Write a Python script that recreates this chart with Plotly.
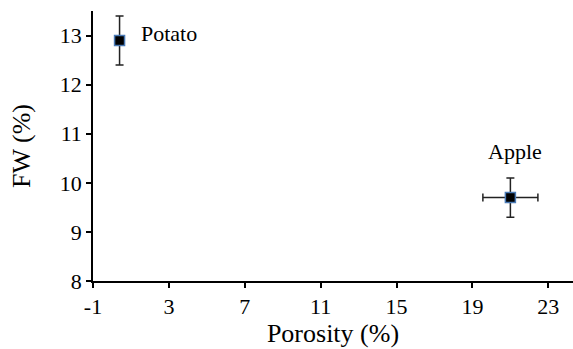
import plotly.graph_objects as go

names = ["Potato", "Apple"]
porosity = [0.4, 21.0]
porosity_err = [0.0, 1.45]
fw = [12.9, 9.7]
fw_err = [0.5, 0.4]

x_ticks = [-1, 3, 7, 11, 15, 19, 23]
y_ticks = [8, 9, 10, 11, 12, 13]

font = dict(family="Liberation Serif, Times New Roman, serif", size=22, color="black")

fig = go.Figure()
fig.add_trace(go.Scatter(
    x=porosity, y=fw, mode="markers",
    marker=dict(symbol="square", size=10, color="black",
                line=dict(color="#4a7ab5", width=1.5)),
    error_x=dict(type="data", array=porosity_err, visible=True, color="#222222", thickness=1.5, width=4),
    error_y=dict(type="data", array=fw_err, visible=True, color="#222222", thickness=1.5, width=4),
    showlegend=False,
))

fig.add_annotation(x=porosity[0], y=fw[0], text=names[0], showarrow=False,
                   xanchor="left", yanchor="middle", xshift=19, yshift=7, font=font)
fig.add_annotation(x=porosity[1], y=fw[1], text=names[1], showarrow=False,
                   xanchor="center", yanchor="middle", xshift=5, yshift=46, font=font)

fig.update_layout(
    width=573, height=349,
    margin=dict(l=93, r=0, t=11, b=68),
    paper_bgcolor="white", plot_bgcolor="white",
    font=font,
    xaxis=dict(range=[-1, 24.3], tickvals=x_ticks, ticktext=[str(v) for v in x_ticks],
               showgrid=False, zeroline=False, showline=True, linecolor="black", linewidth=1.5,
               ticks="outside", ticklen=5, tickcolor="black", tickwidth=1.5, automargin=False,
               title=dict(text="Porosity (%)", standoff=6)),
    yaxis=dict(range=[8, 13.5], tickvals=y_ticks, ticktext=[str(v) for v in y_ticks],
               showgrid=False, zeroline=False, showline=True, linecolor="black", linewidth=1.5,
               ticks="outside", ticklen=5, tickcolor="black", tickwidth=1.5, automargin=False,
               title=dict(text="FW (%)", standoff=22)),
)

fig.write_html("out.html", config={"displayModeBar": False},
               post_script="document.body.style.margin='0';document.body.style.overflow='hidden';")
